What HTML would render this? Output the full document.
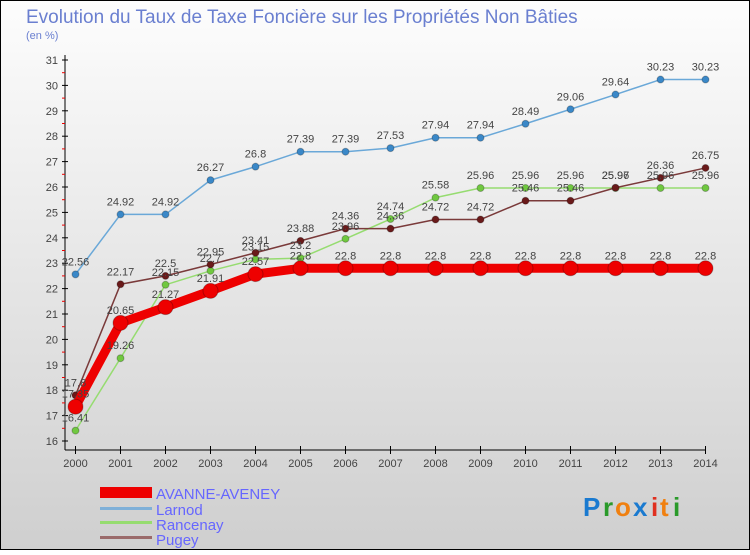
<!DOCTYPE html>
<html><head><meta charset="utf-8"><style>
body{margin:0;width:750px;height:550px;overflow:hidden;font-family:"Liberation Sans",sans-serif}
</style></head><body>
<svg width="750" height="550" xmlns="http://www.w3.org/2000/svg">
<defs><linearGradient id="bg" x1="0" y1="0" x2="0" y2="1"><stop offset="0" stop-color="#fdfdfd"/><stop offset="1" stop-color="#cfcfcf"/></linearGradient></defs>
<rect x="0.5" y="0.5" width="749" height="549" fill="url(#bg)" stroke="#000"/>
<text x="26" y="23" font-size="19" fill="#6a7fd0">Evolution du Taux de Taxe Foncière sur les Propriétés Non Bâties</text>
<text x="26" y="39" font-size="11" fill="#6a7fd0">(en %)</text>
<g id="axes"></g><g id="series"></g><g id="labels"></g>
<g>
<rect x="100" y="487" width="52" height="11" fill="#e00"/>
<text x="156" y="499" font-size="15" fill="#6666ff">AVANNE-AVENEY</text>
<rect x="100" y="507" width="52" height="3" fill="#7fb0d8"/>
<text x="156" y="515" font-size="15" fill="#6666ff">Larnod</text>
<rect x="100" y="521" width="52" height="3" fill="#96dc70"/>
<text x="156" y="530" font-size="15" fill="#6666ff">Rancenay</text>
<rect x="100" y="536" width="52" height="3" fill="#9a6a6a"/>
<text x="156" y="545" font-size="15" fill="#6666ff">Pugey</text>
</g>
<g font-size="26" font-weight="bold">
<text x="583" y="516" fill="#1a7ad0">P</text><text x="603" y="516" fill="#2a9a2a">r</text><text x="615" y="516" fill="#f08010">o</text><text x="633" y="516" fill="#1a7ad0">x</text><text x="651" y="516" fill="#e03020">i</text><text x="660" y="516" fill="#f08010">t</text><text x="673" y="516" fill="#2a9a2a">i</text>
</g>
</svg>
<script>
const years=[2000,2001,2002,2003,2004,2005,2006,2007,2008,2009,2010,2011,2012,2013,2014];
const avanne=[17.35,20.65,21.27,21.91,22.57,22.8,22.8,22.8,22.8,22.8,22.8,22.8,22.8,22.8,22.8];
const larnod=[22.56,24.92,24.92,26.27,26.8,27.39,27.39,27.53,27.94,27.94,28.49,29.06,29.64,30.23,30.23];
const rancenay=[16.41,19.26,22.15,22.7,23.15,23.2,23.96,24.74,25.58,25.96,25.96,25.96,25.96,25.96,25.96];
const pugey=[17.8,22.17,22.5,22.95,23.41,23.88,24.36,24.36,24.72,24.72,25.46,25.46,25.97,26.36,26.75];
const yTicks=[16,17,18,19,20,21,22,23,24,25,26,27,28,29,30,31];
const NS="http://www.w3.org/2000/svg";
const X=i=>75.5+i*45;
const Y=v=>441-(v-16)*25.4;
function mk(tag,at,parent){const e=document.createElementNS(NS,tag);for(const k in at)e.setAttribute(k,at[k]);parent.appendChild(e);return e;}
const ax=document.getElementById('axes'),sr=document.getElementById('series'),lb=document.getElementById('labels');
let a=mk('line',{x1:65,y1:55,x2:65,y2:450,stroke:'#000'},ax);


a=mk('line',{x1:65,y1:450,x2:706,y2:450,stroke:'#000'},ax);


yTicks.forEach(v=>{
 mk('line',{x1:62,y1:Y(v),x2:68,y2:Y(v),stroke:'#000'},ax);
 if(v<31)mk('line',{x1:62,y1:Y(v+0.5),x2:65,y2:Y(v+0.5),stroke:'#e00'},ax);
 const t=mk('text',{x:58,y:Y(v)+4,'font-size':11,'text-anchor':'end',fill:'#444'},ax);t.textContent=v;
 
 
});
years.forEach((yr,i)=>{
 mk('line',{x1:X(i),y1:446,x2:X(i),y2:454,stroke:'#000'},ax);
 const t=mk('text',{x:X(i),y:467,'font-size':11,'text-anchor':'middle',fill:'#444'},ax);t.textContent=yr;
 
 
});
function draw(vals,name,color,dot,w,r){
 const p=mk('polyline',{points:vals.map((v,i)=>X(i)+','+Y(v)).join(' '),fill:'none',stroke:color,'stroke-width':w,'stroke-linejoin':'round'},sr);
 
 
 vals.forEach((v,i)=>{
  const c=mk('circle',{cx:X(i),cy:Y(v),r:r,fill:dot,stroke:'rgba(0,0,0,0.25)'},sr);
  
  
  const t=mk('text',{x:X(i),y:Y(v)-9,'font-size':11,'text-anchor':'middle',fill:'#444'},lb);t.textContent=v;
  
  
 });
}
draw(larnod,'larnod','#6aa8d8','#3a88c8',1.5,3.5);
draw(rancenay,'rancenay','#96dc70','#70c840',1.5,3.5);
draw(pugey,'pugey','#7a3a3a','#6a1a1a',1.5,3.5);
draw(avanne,'avanne','#e00','#e00',9,7.5);
</script>
</body></html>
